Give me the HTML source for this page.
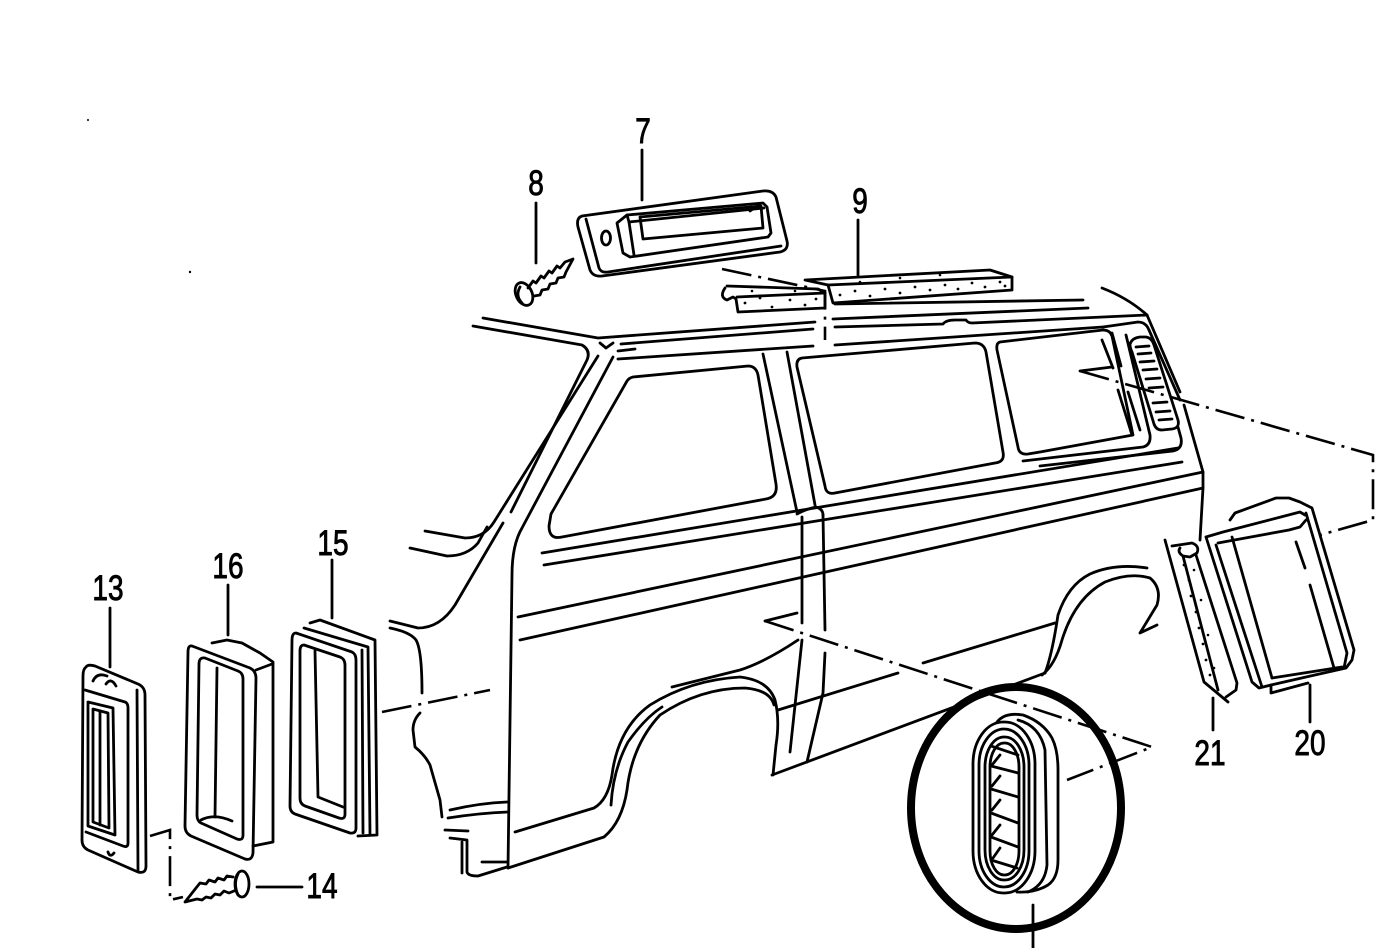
<!DOCTYPE html>
<html><head><meta charset="utf-8"><style>
html,body{margin:0;padding:0;background:#fff;}
svg{display:block;}
text{font-family:"Liberation Sans",sans-serif;font-size:35px;fill:#000;stroke:#000;stroke-width:0.9px;}
</style></head><body>
<svg width="1381" height="948" viewBox="0 0 1381 948" xmlns="http://www.w3.org/2000/svg">
<rect width="1381" height="948" fill="#fff"/>
<g fill="none" stroke="#000" stroke-width="2.8" stroke-linecap="round" stroke-linejoin="round">

<!-- ROOF -->
<path d="M483,318 L598,338 L815,322"/>
<path d="M833,319 L1088,308"/>
<path d="M835,304 L1083,300"/>
<path d="M621,344 L813,329"/>
<path d="M835,327 L943,324 Q946,320 955,320 L966,320 Q968,323 972,323 L1147,315"/>
<path d="M618,351 L635,349"/>
<path d="M618,359 L813,346"/>
<path d="M835,345 L1103,327"/>
<path d="M600,343 L606,348 L613,343"/>
<path d="M1102,288 Q1128,298 1147,315"/>
<path d="M1147,315 L1180,392"/>
<path d="M1184,405 L1203,472 L1203,488 L1200,540"/>
<path d="M1103,327 L1138,322 Q1146,322 1149,330 L1180,400"/>

<!-- A PILLAR -->
<path d="M473,326 L582,345 Q592,351 586,362 L511,512"/>
<path d="M503,523 L455,605 Q440,628 418,628 L390,621"/>
<path d="M598,356 L494,522 Q484,538 465,538 L425,531"/>
<path d="M410,548 L447,556 Q467,556 478,543 L487,527"/>
<path d="M613,357 L522,528 Q512,545 512,575 L508,868"/>

<!-- FRONT LOWER -->
<path d="M390,628 Q410,632 416,640 Q422,650 422,693"/>
<path d="M420,713 Q413,720 413,730 L415,747 Q425,755 430,765 L440,800 L442,817"/>
<path d="M450,810 Q480,803 507,802"/>
<path d="M448,818 Q480,813 508,812"/>
<path d="M445,830 L468,831"/>
<path d="M450,838 L467,840 L467,872 Q468,876 478,876 L507,867"/>
<path d="M462,842 L462,873"/>
<path d="M482,862 L507,862"/>

<!-- WINDOW 1 -->
<path d="M633,377 L748,366 Q756,366 758,375 L776,484 Q778,497 766,499 L562,537 Q549,540 549,526 L551,514 L627,381 Q629,378 633,377 Z"/>
<!-- B pillar -->
<path d="M763,354 L797,512"/>
<path d="M787,352 L815,505"/>
<path d="M797,514 Q806,509 816,507 Q823,509 823,515"/>
<path d="M802,517 L802,623"/>
<path d="M802,640 L790,752"/>
<path d="M823,515 L825,630"/>
<path d="M825,653 L823,693 L807,762"/>

<!-- WINDOW 2 -->
<path d="M802,358 L975,343 Q984,343 986,352 L1003,452 Q1005,462 995,463 L835,493 Q826,495 825,486 L797,367 Q796,359 802,358 Z"/>
<!-- WINDOW 3 -->
<path d="M1000,342 L1103,330 Q1110,330 1112,336 L1133,435 L1040,452 L1028,454 Q1019,455 1018,447 L997,350 Q996,343 1000,342 Z"/>
<path d="M1023,461 L1143,447 Q1151,445 1150,435 L1126,335"/>
<path d="M1040,466 L1173,451 Q1183,449 1181,438 L1178,427"/>
<path d="M1102,340 L1113,368"/>
<path d="M1118,390 L1132,435"/>
<path d="M1128,392 L1140,430"/>
<path d="M1112,333 L1121,366"/>
<!-- rear vent -->
<path d="M1130,344 Q1132,338 1140,337 L1146,337 Q1152,338 1154,345 L1178,420 Q1180,428 1172,429 L1162,430 Q1156,430 1154,424 L1132,352 Q1130,348 1130,344 Z"/>
<path d="M1136,347 L1149,346 M1138,354 L1151,353 M1140,362 L1154,361 M1143,370 L1157,369 M1146,379 L1160,378 M1149,388 L1163,387 M1153,403 L1167,402 M1156,412 L1170,411 M1159,420 L1172,419"/>

<!-- BODY SIDE LINES -->
<path d="M542,553 L1178,448"/>
<path d="M544,565 L1182,462"/>
<path d="M518,617 L1203,472"/>
<path d="M520,640 L1203,488"/>
<path d="M778,710 L898,673"/>
<path d="M923,663 L1055,623"/>
<path d="M772,775 L1045,673"/>
<path d="M672,687 L740,670 Q765,662 798,640"/>

<!-- LEFT WHEEL ARCH -->
<path d="M515,832 L594,808 Q608,800 612,775 Q618,728 650,705 Q690,680 740,677 Q768,680 775,700 Q780,720 776,745 L773,775"/>
<path d="M508,868 L604,837 Q622,822 627,790 Q632,745 660,715 Q700,688 745,688 Q770,690 774,705"/>
<path d="M611,805 Q613,770 628,742 Q645,718 662,707"/>

<!-- RIGHT WHEEL ARCH -->
<path d="M1045,673 Q1052,655 1058,615 Q1068,585 1090,574 Q1115,563 1147,568"/>
<path d="M1042,675 Q1055,665 1062,640 Q1075,598 1105,582 Q1130,572 1150,578 Q1162,588 1157,605 L1140,633 L1157,625"/>

<!-- PART 9 small foam -->
<path d="M727,286 L818,289 L825,293"/>
<path d="M725,288 Q719,297 727,300 L733,297 L736,299 L738,312 L825,308 L825,293 L737,297"/>
<!-- PART 9 strip -->
<path d="M805,280 L990,270 L1012,277 L1012,290 L833,303 L828,285 Z"/>
<path d="M828,285 L1012,277"/>

<!-- PART 7 -->
<path d="M582,216 L763,191 Q773,190 776,197 L787,241 Q789,250 780,252 L602,276 Q593,277 590,270 L578,227 Q576,218 582,216 Z"/>
<path d="M586,219 L599,268 Q601,273 608,272 L781,246"/>
<path d="M617,223 L627,215 L763,203 L767,207 L771,233 L768,237 L630,257 L623,253 Z"/>
<path d="M627,215 L629,222 L764,208"/>
<path d="M629,222 L634,255"/>
<path d="M640,217 L761,206 L763,228 L643,239 Z"/>
<path d="M750,211 L760,204"/>
<ellipse cx="606" cy="238" rx="4.5" ry="7"/>

<!-- PART 8 screw -->
<ellipse cx="524" cy="294" rx="8" ry="12" transform="rotate(-25 524 294)"/>
<path d="M520,287 Q515,296 522,303"/>
<path d="M528,288 L533,281 L536,283 L541,276 L544,278 L549,271 L552,273 L557,266 L560,268 L565,262 L573,259 L566,272 L564,277 L558,278 L556,283 L550,284 L548,289 L542,290 L540,295 L534,296"/>

<!-- PART 13 -->
<path d="M86,667 Q88,664 95,666 L138,684 Q145,687 145,695 L146,866 Q146,874 138,872 L88,850 Q82,847 82,840 L83,676 Q83,669 86,667 Z"/>
<path d="M137,690 L138,870"/>
<path d="M85,690 L125,702 Q128,703 128,708 L128,843 Q128,848 123,846 L86,832"/>
<path d="M88,702 L113,708 L115,835 L88,826 Z"/>
<path d="M93,709 L108,713 L109,828 L93,822 Z"/>
<path d="M100,711 L100,825"/>
<path d="M93,681 Q97,672 107,676 M106,684 Q111,677 116,686"/>
<path d="M108,852 Q110,858 114,853"/>

<!-- PART 16 -->
<path d="M192,646 L250,668 Q256,671 256,678 L253,853 Q252,861 245,859 L191,836 Q185,833 185,826 L188,652 Q188,645 192,646 Z"/>
<path d="M212,643 L227,640 L242,643 L260,653 L273,662 L273,842 L253,846"/>
<path d="M256,670 L272,664"/>
<path d="M205,658 L238,671 Q243,673 243,679 L243,835 Q243,841 237,839 L201,823 Q197,821 197,815 L199,664 Q199,657 205,658 Z"/>
<path d="M217,668 L215,817"/>
<path d="M201,820 Q214,813 232,821"/>

<!-- PART 15 -->
<path d="M310,623 L320,620 L375,640 L377,835 L358,836"/>
<path d="M304,628 L368,647 L370,834"/>
<path d="M296,633 L352,652 Q356,654 356,660 L356,828 Q356,834 350,833 L295,814 Q290,812 290,806 L292,640 Q292,633 296,633 Z"/>
<path d="M304,645 L340,657 Q345,659 345,665 L345,814 Q345,820 339,818 L305,806 Q300,804 300,798 L300,651 Q300,645 304,645 Z"/>
<path d="M315,651 L318,797 L343,807"/>
<path d="M362,650 L363,833"/>

<!-- PART 14 screw -->
<ellipse cx="242" cy="884" rx="7" ry="13"/>
<path d="M238,874 Q233,884 238,895"/>
<path d="M233,877 L227,876 L224,880 L218,878 L215,882 L209,880 L206,884 L200,883 L196,888 L185,902 L197,899 L202,900 L206,897 L211,898 L215,894 L220,895 L224,891 L229,893 L234,891"/>

<!-- PART 20 -->
<path d="M1230,520 L1235,513 L1276,498 L1289,498 L1300,502 L1312,508 L1354,650 L1352,660 L1346,668 L1306,677 L1271,685"/>
<path d="M1206,537 L1223,532 L1300,512 L1305,515"/>
<path d="M1206,537 L1252,682 L1259,688 L1271,685"/>
<path d="M1216,545 L1262,687"/>
<path d="M1232,537 L1272,678"/>
<path d="M1218,543 L1289,530 L1300,527 L1306,520"/>
<path d="M1306,513 L1347,653 L1344,668"/>
<path d="M1296,542 L1305,568"/>
<path d="M1310,585 L1334,668"/>
<path d="M1271,685 L1271,693 L1308,683"/>
<path d="M1272,678 L1342,667"/>

<!-- PART 21 -->
<path d="M1165,540 L1204,682 L1228,702"/>
<path d="M1172,546 L1192,543 Q1200,546 1197,553 L1190,557 L1183,556 Q1177,552 1180,548"/>
<path d="M1183,556 L1218,690"/>
<path d="M1196,555 L1237,683 L1236,690 L1226,697"/>

<!-- VENT IN CIRCLE -->
<path d="M997,722 Q1005,712 1023,715 Q1043,722 1052,738 Q1058,750 1058,770 L1058,860 Q1058,878 1048,885 Q1035,893 1017,892"/>
<path d="M1018,720 Q1040,726 1045,750 L1047,865 Q1045,885 1028,892"/>
<rect x="973" y="722" width="62" height="171" rx="30" ry="42"/>
<rect x="979" y="729" width="50" height="158" rx="25" ry="36"/>
<rect x="985" y="737" width="39" height="143" rx="19" ry="30"/>
<rect x="990" y="743" width="29" height="132" rx="14" ry="24"/>
<path d="M991,746 L1018,755 M991,766 L1018,773 M991,789 L1018,797 M991,813 L1018,823 M991,837 L1018,847 M991,860 L1017,868"/>
<path d="M1000,755 L992,765 M1000,776 L992,786 M1000,800 L992,810 M1000,825 L992,835 M1000,848 L993,858"/>
<path d="M1033,905 L1033,948"/>

<!-- LEADERS -->
<path d="M642,150 L642,200"/>
<path d="M536,203 L536,263"/>
<path d="M858,220 L858,275"/>
<path d="M110,608 L110,667"/>
<path d="M228,585 L228,635"/>
<path d="M332,560 L332,618"/>
<path d="M257,887 L302,887"/>
<path d="M1213,698 L1213,730"/>
<path d="M1310,685 L1310,722"/>

<path d="M1112,367 L1080,371"/>
<path d="M797,613 L765,621"/>
</g>

<!-- big circle -->
<ellipse cx="1016" cy="808" rx="105" ry="121" fill="none" stroke="#000" stroke-width="8"/>

<!-- DASH-DOT LINES -->
<g fill="none" stroke="#000" stroke-width="2.6" stroke-dasharray="30 7 3 7">
<path d="M722,269 L825,291 L825,340"/>
<path d="M1080,371 L1373,455 L1373,520 L1320,535"/>
<path d="M765,621 L1152,747 L1067,780"/>
<path d="M382,712 L490,690"/>
<path d="M150,836 L170,830 L170,900 L183,897"/>
</g>

<!-- foam dots -->
<g fill="#000">
<circle cx="745" cy="303" r="1.4"/><circle cx="760" cy="298" r="1.4"/><circle cx="772" cy="307" r="1.4"/><circle cx="790" cy="300" r="1.4"/><circle cx="805" cy="305" r="1.4"/><circle cx="816" cy="299" r="1.4"/><circle cx="752" cy="291" r="1.3"/><circle cx="795" cy="291" r="1.3"/>
<circle cx="840" cy="295" r="1.4"/><circle cx="855" cy="291" r="1.4"/><circle cx="870" cy="296" r="1.4"/><circle cx="885" cy="289" r="1.4"/><circle cx="900" cy="293" r="1.4"/><circle cx="915" cy="287" r="1.4"/><circle cx="930" cy="290" r="1.4"/><circle cx="945" cy="285" r="1.4"/><circle cx="958" cy="289" r="1.4"/><circle cx="972" cy="283" r="1.4"/><circle cx="985" cy="287" r="1.4"/><circle cx="1000" cy="282" r="1.4"/><circle cx="1005" cy="286" r="1.4"/><circle cx="900" cy="278" r="1.3"/><circle cx="940" cy="275" r="1.3"/><circle cx="860" cy="282" r="1.3"/>
<circle cx="1184" cy="565" r="1.4"/><circle cx="1189" cy="580" r="1.4"/><circle cx="1191" cy="596" r="1.4"/><circle cx="1196" cy="612" r="1.4"/><circle cx="1199" cy="628" r="1.4"/><circle cx="1203" cy="644" r="1.4"/><circle cx="1206" cy="660" r="1.4"/><circle cx="1210" cy="675" r="1.4"/><circle cx="1194" cy="570" r="1.3"/><circle cx="1201" cy="600" r="1.3"/><circle cx="1208" cy="635" r="1.3"/><circle cx="1214" cy="668" r="1.3"/>
<circle cx="88" cy="120" r="1"/><circle cx="190" cy="272" r="1.2"/>
</g>

<!-- LABELS -->
<g transform="translate(643,143) scale(0.8,1)"><text x="0" y="0" text-anchor="middle">7</text></g>
<g transform="translate(536,195) scale(0.8,1)"><text x="0" y="0" text-anchor="middle">8</text></g>
<g transform="translate(860,213) scale(0.8,1)"><text x="0" y="0" text-anchor="middle">9</text></g>
<g transform="translate(108,600) scale(0.8,1)"><text x="0" y="0" text-anchor="middle">13</text></g>
<g transform="translate(228,578) scale(0.8,1)"><text x="0" y="0" text-anchor="middle">16</text></g>
<g transform="translate(333,555) scale(0.8,1)"><text x="0" y="0" text-anchor="middle">15</text></g>
<g transform="translate(322,898) scale(0.8,1)"><text x="0" y="0" text-anchor="middle">14</text></g>
<g transform="translate(1210,765) scale(0.8,1)"><text x="0" y="0" text-anchor="middle">21</text></g>
<g transform="translate(1310,755) scale(0.8,1)"><text x="0" y="0" text-anchor="middle">20</text></g>
</svg>
</body></html>
